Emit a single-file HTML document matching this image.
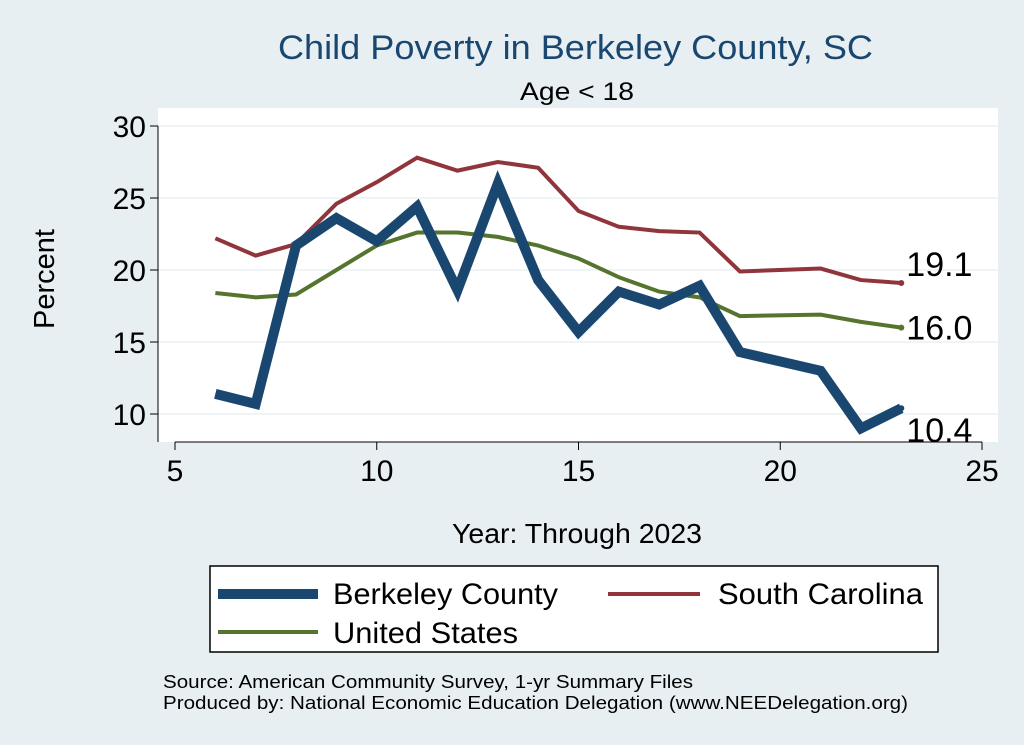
<!DOCTYPE html>
<html><head><meta charset="utf-8"><style>
body{margin:0;background:#e8eff2;}
svg{display:block;font-family:"Liberation Sans",Arial,sans-serif;}
</style></head><body>
<svg id="chart" width="1024" height="745" viewBox="0 0 1024 745">
<rect x="0" y="0" width="1024" height="745" fill="#e8eff2"/>
<rect x="158" y="108" width="840" height="334" fill="#ffffff"/>
<text x="278" y="59" textLength="595" lengthAdjust="spacingAndGlyphs" font-size="34" fill="#1a476f">Child Poverty in Berkeley County, SC</text>
<text x="520" y="100" textLength="114" lengthAdjust="spacingAndGlyphs" font-size="25" fill="#000">Age &lt; 18</text>
<text transform="translate(54,279) rotate(-90)" text-anchor="middle" font-size="29">Percent</text>
<text x="452" y="543" textLength="250" lengthAdjust="spacingAndGlyphs" font-size="28">Year: Through 2023</text>
<g id="grid"></g><g id="axes"></g><g id="series"></g>
<g>
<rect x="210" y="566" width="728" height="86" fill="#fff" stroke="#000" stroke-width="1.5"/>
<line x1="218" y1="594" x2="318" y2="594" stroke="#1a476f" stroke-width="10"/>
<text x="333" y="604" textLength="225" lengthAdjust="spacingAndGlyphs" font-size="30">Berkeley County</text>
<line x1="608" y1="594" x2="700" y2="594" stroke="#90353b" stroke-width="4"/>
<text x="718" y="604" textLength="205" lengthAdjust="spacingAndGlyphs" font-size="30">South Carolina</text>
<line x1="218" y1="632" x2="318" y2="632" stroke="#55752f" stroke-width="4"/>
<text x="333" y="643" textLength="185" lengthAdjust="spacingAndGlyphs" font-size="30">United States</text>
</g>
<text x="163" y="688" textLength="530" lengthAdjust="spacingAndGlyphs" font-size="18">Source: American Community Survey, 1-yr Summary Files</text>
<text x="163" y="709" textLength="745" lengthAdjust="spacingAndGlyphs" font-size="18">Produced by: National Economic Education Delegation (www.NEEDelegation.org)</text>
</svg>
<script>
const years=[6,7,8,9,10,11,12,13,14,15,16,17,18,19,21,22,23];
const berkeley=[11.4,10.7,21.7,23.6,22.0,24.4,18.6,26.0,19.3,15.7,18.5,17.6,18.9,14.3,13.0,9.0,10.4];
const southCarolina=[22.2,21.0,21.8,24.6,26.1,27.8,26.9,27.5,27.1,24.1,23.0,22.7,22.6,19.9,20.1,19.3,19.1];
const unitedStates=[18.4,18.1,18.3,20.0,21.7,22.6,22.6,22.3,21.7,20.8,19.5,18.5,18.1,16.8,16.9,16.4,16.0];
const xTicks=[5,10,15,20,25];
const yTicks=[10,15,20,25,30];
const NS="http://www.w3.org/2000/svg";
const xs=v=>175+(v-5)*(982-175)/20;
const ys=v=>414-(v-10)*14.4;
function mk(tag,attrs,parent){const e=document.createElementNS(NS,tag);for(const k in attrs)e.setAttribute(k,attrs[k]);parent.appendChild(e);return e;}
const grid=document.getElementById('grid'),axes=document.getElementById('axes'),ser=document.getElementById('series');
yTicks.forEach(t=>{
 const g=mk('line',{x1:158,x2:998,y1:ys(t),y2:ys(t),stroke:'#eaf2f3','stroke-width':1.5},grid);
 
 
 mk('line',{x1:150,x2:158,y1:ys(t),y2:ys(t),stroke:'#000'},axes);
 const l=mk('text',{x:146,y:ys(t)+11,'text-anchor':'end','font-size':30},axes);l.textContent=t;
 
 
});
xTicks.forEach(t=>{
 mk('line',{x1:xs(t),x2:xs(t),y1:442,y2:450,stroke:'#000'},axes);
 const l=mk('text',{x:xs(t),y:481,'text-anchor':'middle','font-size':30},axes);l.textContent=t;
 
 
});
mk('line',{x1:158,x2:158,y1:ys(30),y2:442,stroke:'#000'},axes);
mk('line',{x1:xs(5),x2:xs(25),y1:442,y2:442,stroke:'#000'},axes);
function series(vals,color,w,name,labelDy){
 const p=mk('polyline',{points:years.map((y,i)=>xs(y)+','+ys(vals[i])).join(' '),fill:'none',stroke:color,'stroke-width':w,'stroke-linejoin':'miter'},ser);
 
 
 const n=vals.length-1;
 mk('circle',{cx:xs(years[n]),cy:ys(vals[n]),r:3,fill:color},ser);
 const t=mk('text',{x:xs(years[n])+5,y:ys(vals[n])+labelDy,'font-size':34},ser);
 t.textContent=vals[n].toFixed(1);
 
 
}
series(southCarolina,'#90353b',4,'south-carolina',-7);
series(unitedStates,'#55752f',4,'united-states',12);
series(berkeley,'#1a476f',10,'berkeley-county',34);
</script>
</body></html>
